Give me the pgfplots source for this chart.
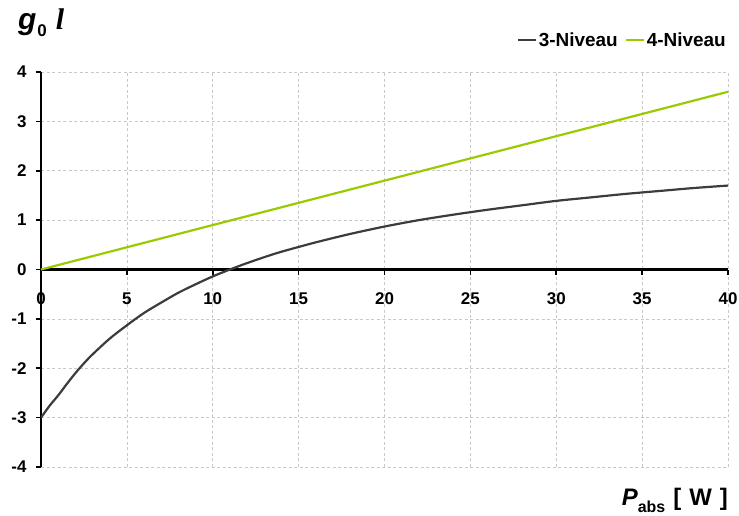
\documentclass[border=0pt]{standalone}
\usepackage{fontspec}
\setmainfont{Liberation Sans}
\newfontfamily\serifface{Liberation Serif}
\usepackage{pgfplots}
\pgfplotsset{compat=1.18}

\definecolor{niveauDrei}{RGB}{60,60,60}
\definecolor{niveauVier}{RGB}{153,204,0}
\definecolor{gridgray}{RGB}{200,200,200}

\begin{document}
\begin{tikzpicture}
\useasboundingbox (0,0) rectangle (739bp,516bp);
\begin{axis}[
  scale only axis,
  width=687bp, height=395bp,
  at={(41bp,49bp)}, anchor=south west,
  xmin=0, xmax=40, ymin=-4, ymax=4,
  axis x line=middle, axis y line=left,
  axis line style={-, line width=2.3bp, black},
  hide obscured x ticks=false, hide obscured y ticks=false,
  xtick={0,5,...,40}, ytick={-4,-3,...,4},
  tick align=outside,
  major tick length=5bp,
  tick style={line width=1.6bp, black},
  grid=major,
  grid style={line width=0.7bp, gridgray, dash pattern=on 3bp off 2.5bp},
  /pgf/number format/assume math mode=true,
  ticklabel style={font=\fontsize{17}{20}\selectfont\bfseries},
  xticklabel style={yshift=-15bp},
  yticklabel style={xshift=-6bp},
  legend columns=2,
  legend cell align=left,
  legend style={draw=none, fill=none, inner sep=0pt,
    font=\fontsize{19}{22}\selectfont\bfseries,
    at={(1.0,1.081)}, anchor=east,
    /tikz/every even column/.append style={column sep=5bp}},
  legend image code/.code={\draw[#1] (-2bp,0bp) -- (16bp,0bp);},
]
% 3-level system: gain rises from -3 and saturates
\addplot[niveauDrei, line width=2.2bp, smooth] coordinates {
  (0,-3.0) (0.5,-2.76) (1,-2.55) (1.5,-2.32) (2,-2.10) (2.5,-1.90)
  (3,-1.72) (4,-1.40) (5,-1.13) (6,-0.88) (7,-0.67) (8,-0.47)
  (9,-0.30) (10,-0.14) (11,0.0) (12,0.13) (13,0.25) (14,0.36)
  (16,0.55) (18,0.72) (20,0.87) (22,1.00) (24,1.11) (26,1.21)
  (28,1.30) (30,1.39) (32,1.46) (34,1.53) (36,1.59) (38,1.65) (40,1.70)
};
\addlegendentry{3-Niveau}
% 4-level system: linear gain
\addplot[niveauVier, line width=2.2bp] coordinates {(0,0) (40,3.6)};
\addlegendentry{4-Niveau}
\end{axis}
% axis titles
\node[anchor=base west, inner sep=0pt] at (18bp,486bp)
  {\fontsize{30}{34}\selectfont\bfseries\itshape g\hspace{1bp}\raisebox{-7bp}{\fontsize{17}{20}\selectfont\upshape 0}\hspace{9bp}{\serifface l}};
\node[anchor=base east, inner sep=0pt] at (728bp,11bp)
  {\fontsize{24}{28}\selectfont\bfseries\itshape P\raisebox{-7bp}{\fontsize{16}{19}\selectfont\upshape abs}\upshape\hspace{8bp}[\hspace{8bp}W\hspace{8bp}]};
\end{tikzpicture}
\end{document}
